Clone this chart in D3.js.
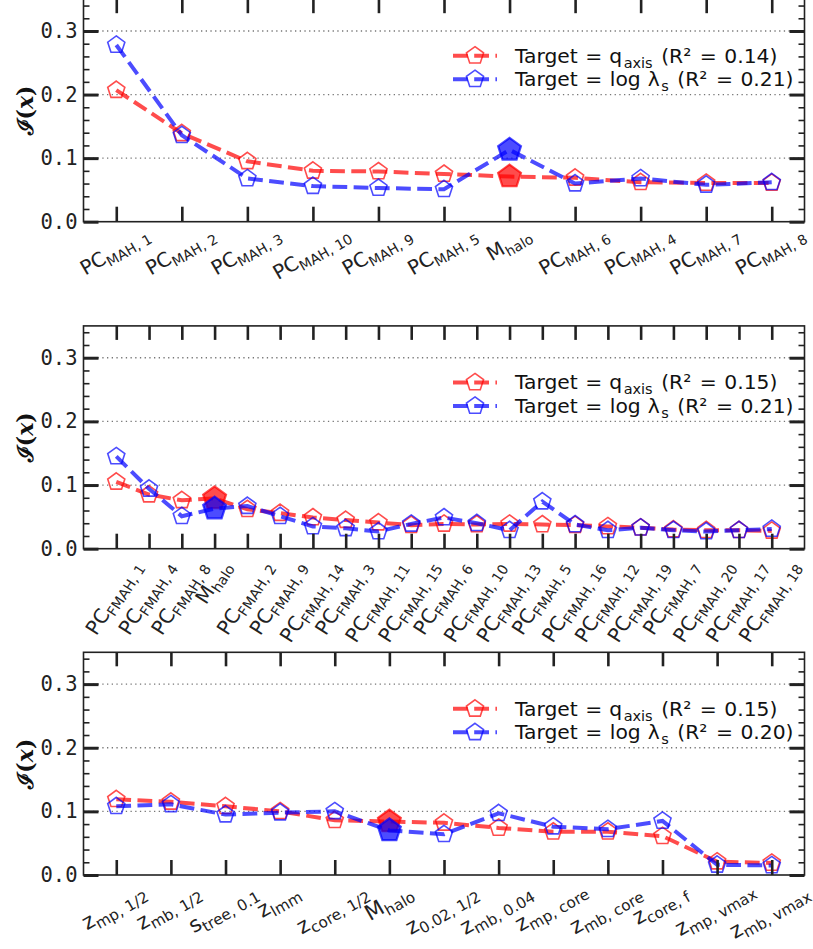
<!DOCTYPE html>
<html><head><meta charset="utf-8">
<script src="https://cdn.jsdelivr.net/npm/d3@7"></script>
<style>body{margin:0;background:#fff}</style>
</head><body>
<svg id="c" width="813" height="949" xmlns="http://www.w3.org/2000/svg"></svg>
<script>
// ---------------- data ----------------
const catsMAH = ["PC_MAH, 1","PC_MAH, 2","PC_MAH, 3","PC_MAH, 10","PC_MAH, 9","PC_MAH, 5","M_halo","PC_MAH, 6","PC_MAH, 4","PC_MAH, 7","PC_MAH, 8"];
const qaxisMAH  = [0.207,0.139,0.095,0.080,0.079,0.075,0.071,0.069,0.062,0.061,0.061];
const lambdaMAH = [0.278,0.136,0.068,0.056,0.053,0.051,0.113,0.060,0.068,0.058,0.062];
const r2MAH = ["0.14","0.21"];

const catsFMAH = ["PC_FMAH, 1","PC_FMAH, 4","PC_FMAH, 8","M_halo","PC_FMAH, 2","PC_FMAH, 9","PC_FMAH, 14","PC_FMAH, 3","PC_FMAH, 11","PC_FMAH, 15","PC_FMAH, 6","PC_FMAH, 10","PC_FMAH, 13","PC_FMAH, 5","PC_FMAH, 16","PC_FMAH, 12","PC_FMAH, 19","PC_FMAH, 7","PC_FMAH, 20","PC_FMAH, 17","PC_FMAH, 18"];
const qaxisFMAH  = [0.105,0.085,0.076,0.079,0.062,0.056,0.049,0.045,0.041,0.037,0.039,0.038,0.039,0.038,0.037,0.035,0.033,0.030,0.029,0.029,0.028];
const lambdaFMAH = [0.145,0.094,0.051,0.063,0.067,0.051,0.035,0.032,0.027,0.039,0.049,0.040,0.029,0.074,0.038,0.029,0.033,0.029,0.027,0.029,0.031];
const r2FMAH = ["0.15","0.21"];

const catsZ = ["z_mp, 1/2","z_mb, 1/2","s_tree, 0.1","z_lmm","z_core, 1/2","M_halo","z_0.02, 1/2","z_mb, 0.04","z_mp, core","z_mb, core","z_core, f","z_mp, vmax","z_mb, vmax"];
const qaxisZ  = [0.119,0.115,0.108,0.100,0.086,0.084,0.082,0.074,0.068,0.068,0.061,0.021,0.019];
const lambdaZ = [0.108,0.111,0.095,0.098,0.100,0.070,0.064,0.097,0.076,0.072,0.085,0.016,0.015];
const r2Z = ["0.15","0.20"];

const yMajor = [0, 0.1, 0.2, 0.3];
const yMinor = [0.02,0.04,0.06,0.08,0.12,0.14,0.16,0.18,0.22,0.24,0.26,0.28,0.32,0.34];
const highlight = "M_halo";

// ---------------- layout ----------------
const panels = [
  {cats: catsMAH,  red: qaxisMAH,  blue: lambdaMAH,  r2: r2MAH,  top: -0.8,  bottom: 221.7, rot: 30, pad: 11, fs: [20, 14]},
  {cats: catsFMAH, red: qaxisFMAH, blue: lambdaFMAH, r2: r2FMAH, top: 325.9, bottom: 548.7, rot: 57, pad: 14, fs: [20, 14]},
  {cats: catsZ,    red: qaxisZ,    blue: lambdaZ,    r2: r2Z,    top: 652.3, bottom: 875.0, rot: 30, pad: 15, fs: [21.5, 15.2]}
];
const LEFT = 83.5, RIGHT = 804.5;
const RED = "#ff0000", BLUE = "#0000ff", ALPHA = 0.7;
const LW = 4, DASH = "14.8,6.4";
const svg = d3.select("#c");

function pentagon(r) {
  const pts = d3.range(5).map(k => {
    const a = (-90 + 72 * k) * Math.PI / 180;
    return [r * Math.cos(a), r * Math.sin(a)];
  });
  return "M" + pts.map(p => p[0].toFixed(2) + "," + p[1].toFixed(2)).join("L") + "Z";
}

function splitLabel(s) {
  const i = s.indexOf("_");
  return i < 0 ? [s, ""] : [s.slice(0, i), s.slice(i + 1)];
}

function drawPanel(p) {
  const n = p.cats.length;
  const x = d3.scalePoint().domain(p.cats).range([LEFT, RIGHT]).padding(0.05 * (n - 1));
  const y = d3.scaleLinear().domain([0, 0.35]).range([p.bottom, p.top]);
  const g = svg.append("g");

  // grid
  g.append("g").selectAll("line").data([0.1, 0.2, 0.3]).join("line")
    .attr("x1", LEFT).attr("x2", RIGHT).attr("y1", d => y(d)).attr("y2", d => y(d))
    .attr("stroke", "#777").attr("stroke-width", 1.3).attr("stroke-dasharray", "1.3,3.4");

  // series
  [[p.red, RED], [p.blue, BLUE]].forEach(([vals, col]) => {
    const pts = p.cats.map((c, i) => ({c, v: vals[i]}));
    const line = d3.line().x(d => x(d.c)).y(d => y(d.v));
    g.append("path").datum(pts).attr("d", line).attr("fill", "none")
      .attr("stroke", col).attr("stroke-opacity", ALPHA).attr("stroke-width", LW)
      .attr("stroke-dasharray", DASH);
    g.append("g").selectAll("path").data(pts).join("path")
      .attr("transform", d => `translate(${x(d.c)},${y(d.v)})`)
      .attr("d", d => pentagon(d.c === highlight ? 12 : 9))
      .attr("fill", d => d.c === highlight ? col : "none")
      .attr("fill-opacity", ALPHA)
      .attr("stroke", col).attr("stroke-opacity", ALPHA)
      .attr("stroke-width", d => d.c === highlight ? 2.2 : 1.6)
      .attr("stroke-linejoin", "miter");
  });

  // axes ticks
  const tickCol = "#222";
  const ax = [
    g.append("g").attr("transform", `translate(0,${p.bottom})`).call(d3.axisBottom(x).tickSizeInner(-15).tickSizeOuter(0).tickFormat("")),
    g.append("g").attr("transform", `translate(0,${p.top})`).call(d3.axisTop(x).tickSizeInner(-14).tickSizeOuter(0).tickFormat(""))
  ];
  ax.forEach(a => { a.select(".domain").remove(); a.selectAll("line").attr("stroke", tickCol).attr("stroke-width", 2.6); });

  const yl = g.append("g").attr("transform", `translate(${LEFT},0)`)
    .call(d3.axisLeft(y).tickValues(yMajor).tickSizeInner(-15).tickSizeOuter(0).tickPadding(6).tickFormat(d3.format(".1f")));
  const yr = g.append("g").attr("transform", `translate(${RIGHT},0)`)
    .call(d3.axisRight(y).tickValues(yMajor).tickSizeInner(-15).tickSizeOuter(0).tickFormat(""));
  const yl2 = g.append("g").attr("transform", `translate(${LEFT},0)`)
    .call(d3.axisLeft(y).tickValues(yMinor).tickSizeInner(-6).tickSizeOuter(0).tickFormat(""));
  const yr2 = g.append("g").attr("transform", `translate(${RIGHT},0)`)
    .call(d3.axisRight(y).tickValues(yMinor).tickSizeInner(-6).tickSizeOuter(0).tickFormat(""));
  [yl, yr].forEach(a => { a.select(".domain").remove(); a.selectAll("line").attr("stroke", tickCol).attr("stroke-width", 3); });
  [yl2, yr2].forEach(a => { a.select(".domain").remove(); a.selectAll("line").attr("stroke", tickCol).attr("stroke-width", 1.6); });
  yl.selectAll("text").attr("font-family", "DejaVu Sans Mono").attr("font-size", 20.5).attr("fill", "#222");

  // frame
  g.append("rect").attr("x", LEFT).attr("y", p.top).attr("width", RIGHT - LEFT).attr("height", p.bottom - p.top)
    .attr("fill", "none").attr("stroke", "#222").attr("stroke-width", 1.6);

  // x labels: rotated ink extent centred on tick, top just below the axis
  const th = p.rot * Math.PI / 180, cs = Math.cos(th), sn = Math.sin(th);
  const [MAIN, SUB] = p.fs, SUBDY = 0.235 * MAIN;
  p.cats.forEach(c => {
    const [main, sub] = splitLabel(c);
    const t = g.append("text").attr("font-family", "DejaVu Sans").attr("fill", "#222");
    const t1 = t.append("tspan").attr("font-size", MAIN).text(main);
    if (sub) t.append("tspan").attr("font-size", SUB).attr("dy", SUBDY).text(sub);
    const w = t.node().getComputedTextLength();
    const wm = t1.node().getComputedTextLength();
    const mainTop = /^[A-Z]/.test(main) ? -0.73 * MAIN : -0.55 * MAIN;
    const subTop = SUBDY - (/[A-Z0-9lhkbdtf\/]/.test(sub) ? 0.76 : 0.55) * SUB;
    const subBot = SUBDY + (/[pqgy,]/.test(sub) ? 0.2 * SUB : 0);
    const boxes = [[0, wm, mainTop, 0]];
    if (sub) boxes.push([wm, w, subTop, subBot]);
    const corners = [];
    boxes.forEach(([x0, x1, y0, y1]) => [[x0, y0], [x1, y0], [x0, y1], [x1, y1]].forEach(([a, b]) => corners.push([a * cs + b * sn, -a * sn + b * cs])));
    const xs = corners.map(q => q[0]), ys = corners.map(q => q[1]);
    const cxr = (d3.min(xs) + d3.max(xs)) / 2, ymin = d3.min(ys);
    t.attr("transform", `translate(${x(c) - cxr},${p.bottom + p.pad - ymin}) rotate(${-p.rot})`);
  });

  // y label
  g.append("text").attr("transform", `translate(25,${(p.top + p.bottom) / 2}) rotate(-90)`)
    .attr("text-anchor", "middle").attr("dominant-baseline", "central")
    .attr("font-family", "DejaVu Serif").attr("font-weight", "bold").attr("font-size", 22).attr("fill", "#111")
    .call(t => {
      t.append("tspan").text("\u2110");
      t.append("tspan").text("(");
      t.append("tspan").attr("font-style", "italic").text("x");
      t.append("tspan").text(")");
    });

  // legend
  const lg = g.append("g").attr("transform", `translate(0,${p.top})`);
  const rows = [
    {col: RED, parts: [["Target", 0, 0], ["=", 0, 7.5], ["q", 0, 7], ["axis", 1, 1.5], ["(R\u00b2", 0, 8.5], ["=", 0, 8.5], [p.r2[0] + ")", 0, 7.5]]},
    {col: BLUE, parts: [["Target", 0, 0], ["=", 0, 7.5], ["log", 0, 7.5], ["\u03bb", 0, 7], ["s", 1, 1.5], ["(R\u00b2", 0, 8.5], ["=", 0, 8.5], [p.r2[1] + ")", 0, 7.5]]}
  ];
  rows.forEach((r, i) => {
    const cy = 56.5 + i * 23.5;
    lg.append("line").attr("x1", 453).attr("x2", 497).attr("y1", cy).attr("y2", cy)
      .attr("stroke", r.col).attr("stroke-opacity", ALPHA).attr("stroke-width", LW).attr("stroke-dasharray", DASH);
    lg.append("path").attr("transform", `translate(475,${cy})`).attr("d", pentagon(9))
      .attr("fill", "none").attr("stroke", r.col).attr("stroke-opacity", ALPHA).attr("stroke-width", 1.6);
    const t = lg.append("text").attr("x", 515).attr("y", cy + 7).attr("font-family", "DejaVu Sans").attr("font-size", 20.3).attr("fill", "#111");
    let shift = 0;
    r.parts.forEach(([s, k, dx]) => {
      let target = 0, fs = 20.3;
      if (k === 1) { target = 5; fs = 14.5; }
      t.append("tspan").text(s).attr("font-size", fs).attr("dx", dx).attr("dy", target - shift);
      shift = target;
    });
  });
}

panels.forEach(drawPanel);
</script>
</body></html>
